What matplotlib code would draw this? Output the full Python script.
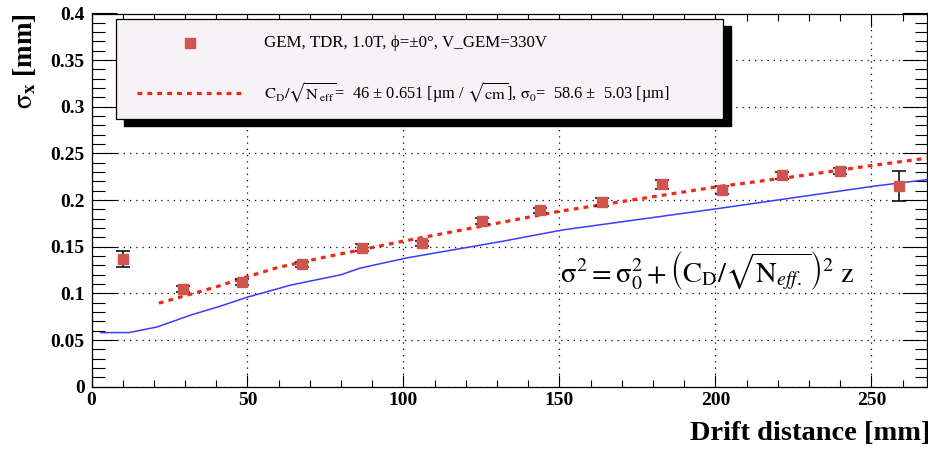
import matplotlib
matplotlib.use("Agg")
import matplotlib.pyplot as plt
from matplotlib.patches import Rectangle
from matplotlib.lines import Line2D
from matplotlib.ticker import MultipleLocator, FuncFormatter

plt.rcParams['font.family'] = ['Liberation Serif', 'DejaVu Serif']
plt.rcParams['mathtext.fontset'] = 'stix'

# measured points (drift distance in mm, sigma_x in mm)
drift_mm = [10.0, 29.3, 48.3, 67.5, 86.8, 105.8, 125.2, 143.9, 163.5, 182.9,
            202.1, 221.4, 239.8, 259.0]
sigma_mm = [0.1367, 0.1046, 0.1124, 0.131, 0.149, 0.1535, 0.1774, 0.189,
            0.198, 0.217, 0.211, 0.2266, 0.231, 0.215]
sigma_err = [0.0085, 0.003, 0.003, 0.003, 0.004, 0.003, 0.003, 0.003,
             0.004, 0.005, 0.004, 0.004, 0.003, 0.016]

# fit curve
fit_x = [21.6, 30, 40, 50, 60, 75, 100, 125, 150, 175, 200, 225, 250, 268]
fit_sigma = [0.0895, 0.0975, 0.107, 0.118, 0.128, 0.139, 0.156, 0.172, 0.188,
             0.201, 0.214, 0.225, 0.237, 0.245]

# blue reference curve
sim_x = [3, 12, 21, 32, 41, 50, 64, 80, 86, 101, 132, 151, 201, 251, 268]
sim_sigma = [0.058, 0.058, 0.064, 0.077, 0.086, 0.096, 0.109, 0.120, 0.127,
             0.138, 0.156, 0.168, 0.191, 0.215, 0.222]

legend_data = "GEM, TDR, 1.0T, ϕ=±0°, V_GEM=330V"
legend_fit = (r"$\mathrm{C_D}/\sqrt{\mathrm{N_{\,eff}}}$=  46 ± 0.651 [µm / $\sqrt{\mathrm{cm}}$],"
              r" $\mathrm{\sigma_0}$=  58.6 ±  5.03 [µm]")

W, H = 929, 455
fig = plt.figure(figsize=(W / 100, H / 100), dpi=100)
fig.patch.set_facecolor('white')


def px(x, y):
    # pixel position -> figure fraction
    return x / W, 1 - y / H


ax = fig.add_axes([91.5 / W, (H - 386.7) / H, (927.5 - 91.5) / W, (386.7 - 13.5) / H])

data_red = '#d0554f'
fit_red = '#f02818'

ax.plot(sim_x, sim_sigma, color='#3a3cff', lw=1.1, zorder=3)
ax.plot(fit_x, fit_sigma, color=fit_red, lw=2.3, linestyle=(0, (1.5, 1.6)),
        zorder=4)
ax.errorbar(drift_mm, sigma_mm, yerr=sigma_err, fmt='s', color=data_red,
            ms=7.5, mec=data_red, ecolor='black', elinewidth=1.1, capsize=5,
            capthick=1.1, zorder=5)

ax.set_xlim(0, 268)
ax.set_ylim(0, 0.4)
ax.xaxis.set_major_locator(MultipleLocator(50))
ax.xaxis.set_minor_locator(MultipleLocator(10))
ax.yaxis.set_major_locator(MultipleLocator(0.05))
ax.yaxis.set_minor_locator(MultipleLocator(0.01))
ax.yaxis.set_major_formatter(FuncFormatter(lambda v, p: '%g' % round(v, 3)))
ax.xaxis.set_major_formatter(FuncFormatter(lambda v, p: '%g' % v))

ax.grid(True, which='major', color='black', lw=0.9, linestyle=(0, (1, 4)))
ax.set_axisbelow(True)

ax.tick_params(which='both', direction='in', top=True, right=True,
               width=0.8, colors='black', labelsize=14)
ax.tick_params(axis='y', which='major', length=18, pad=5)
ax.tick_params(axis='y', which='minor', length=9)
ax.tick_params(axis='x', which='major', length=9, pad=4)
ax.tick_params(axis='x', which='minor', length=5)
for lab in ax.get_xticklabels() + ax.get_yticklabels():
    lab.set_fontweight('bold')
for s in ax.spines.values():
    s.set_linewidth(0.9)

ax.set_ylabel(r'$\mathrm{\sigma}_{\mathbf{x}}$ [mm]', fontsize=19.5,
              fontweight='bold', loc='top')
ax.yaxis.set_label_coords(-0.064, 1.0)
ax.set_xlabel('Drift distance [mm]', fontsize=20.5, fontweight='bold', loc='right')
ax.xaxis.set_label_coords(1.004, -0.092)

ax.text(150.3, 0.112,
        r'$\mathrm{\sigma^2 = \sigma_0^2 + \left(C_D/\sqrt{N_{\mathit{eff.}}}\right)^2\ z}$',
        fontsize=20.5, va='baseline', ha='left', zorder=6)

# legend box with ROOT style shadow
bx0, by0, bx1, by1 = 116, 19, 723, 119
sx, sy = px(bx0 + 8, by1 + 7)
fig.patches.append(Rectangle((sx, sy), (bx1 - bx0) / W, (by1 - by0) / H,
                             transform=fig.transFigure, facecolor='black',
                             edgecolor='black', zorder=10))
lx, ly = px(bx0, by1)
fig.patches.append(Rectangle((lx, ly), (bx1 - bx0) / W, (by1 - by0) / H,
                             transform=fig.transFigure, facecolor='#f6f2f6',
                             edgecolor='black', lw=0.9, zorder=11))

mx, my = px(190, 43)
fig.lines.append(Line2D([mx], [my], marker='s', ms=7.5, color=data_red,
                        transform=fig.transFigure, zorder=12))
l0x, l0y = px(137, 93)
l1x, _ = px(242, 93)
fig.lines.append(Line2D([l0x, l1x], [l0y, l0y], color=fit_red, lw=2.3,
                        linestyle=(0, (1.5, 1.6)), transform=fig.transFigure,
                        zorder=12))

tx, ty = px(264, 43)
fig.text(tx, ty, legend_data, fontsize=12.2, va='center', ha='left', zorder=13)
tx, ty = px(264, 93)
fig.text(tx, ty, legend_fit, fontsize=11.8, va='center', ha='left', zorder=13)

fig.savefig('out.png', dpi=100)
